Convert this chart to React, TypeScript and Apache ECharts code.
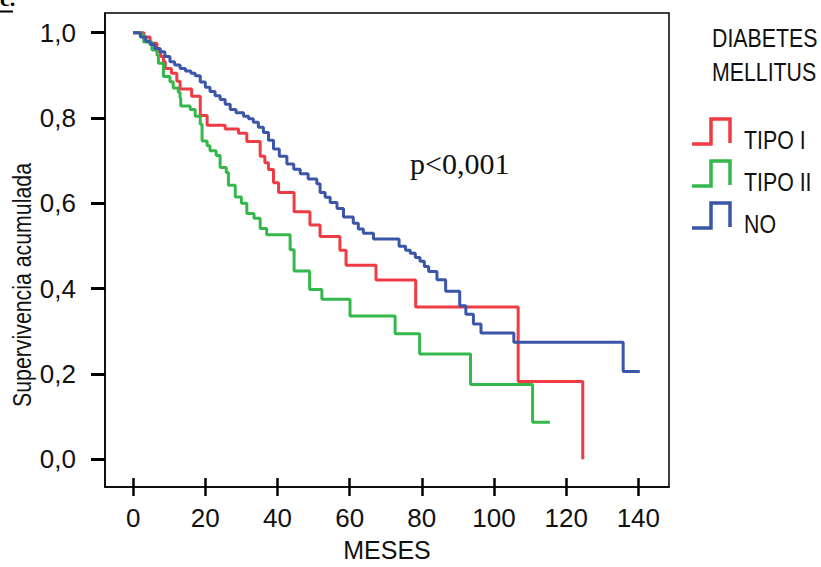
import React, { useEffect, useRef } from "react";
import * as echarts from "echarts";

// Kaplan-Meier survival estimates by diabetes group: [months, cumulative survival]
const tipoI: [number, number][] = [
  [0, 1.0], [3, 0.99], [4.7, 0.975], [6.6, 0.955], [7.6, 0.944], [8.4, 0.932],
  [8.9, 0.916], [10.6, 0.905], [12.1, 0.886], [13, 0.868], [16.2, 0.851],
  [18.6, 0.806], [20.5, 0.783], [25.5, 0.774], [29.2, 0.764], [31.5, 0.745],
  [35.2, 0.71], [36.5, 0.695], [37.5, 0.679], [38.9, 0.648], [40.3, 0.625],
  [44.6, 0.58], [49, 0.549], [51.8, 0.522], [57.3, 0.49], [59, 0.455],
  [67.3, 0.42], [78.3, 0.357], [106.7, 0.182], [124.6, 0],
];

const tipoII: [number, number][] = [
  [0, 1.0], [2.2, 0.995], [2.9, 0.978], [5.2, 0.959], [6.6, 0.947], [7, 0.928],
  [8.4, 0.897], [10.2, 0.885], [11.1, 0.87], [12.5, 0.86], [13, 0.847],
  [13.2, 0.828], [15.8, 0.82], [17.2, 0.804], [18.6, 0.785], [19.1, 0.746],
  [20.5, 0.735], [21.3, 0.723], [23, 0.712], [24.1, 0.684], [25.8, 0.672],
  [26.4, 0.642], [28.3, 0.615], [30, 0.6], [31.5, 0.576], [33.5, 0.565],
  [35.2, 0.541], [37, 0.526], [43.5, 0.491], [44.6, 0.441], [48.9, 0.398],
  [52.3, 0.375], [60.1, 0.336], [72.6, 0.294], [79.4, 0.247], [93.5, 0.175],
  [110.7, 0.087], [115.5, 0.087],
];

const noDiabetes: [number, number][] = [
  [0, 1.0], [2, 0.99], [3.5, 0.98], [4.7, 0.972], [6, 0.963], [7.5, 0.955],
  [8.8, 0.944], [10.2, 0.932], [11.5, 0.924], [13, 0.916], [14.5, 0.91],
  [16, 0.905], [17.2, 0.899], [18.6, 0.884], [20, 0.872], [21.3, 0.862],
  [22.7, 0.852], [24.1, 0.843], [25.5, 0.832], [26.9, 0.82], [28.5, 0.812],
  [30.6, 0.804], [32, 0.798], [33.3, 0.79], [34.7, 0.778], [36.1, 0.766],
  [37.5, 0.748], [38.9, 0.727], [40.5, 0.71], [42.6, 0.692], [44.5, 0.68],
  [46.3, 0.669], [48.5, 0.657], [50.9, 0.646], [51.8, 0.625], [53.2, 0.614],
  [54.6, 0.602], [56.5, 0.588], [58.3, 0.568], [61, 0.553], [62.4, 0.54],
  [63.8, 0.53], [66.6, 0.516], [73.7, 0.499], [75.5, 0.49], [76.8, 0.483],
  [78.2, 0.473], [79.5, 0.464], [80.7, 0.452], [81.9, 0.44], [84.2, 0.421],
  [86.6, 0.394], [90.5, 0.36], [92.2, 0.34], [94.3, 0.317], [96.4, 0.296],
  [105.5, 0.274], [135.8, 0.206], [140.4, 0.206],
];

const monthTicks = [0, 20, 40, 60, 80, 100, 120, 140];
const survivalTicks = [0, 0.2, 0.4, 0.6, 0.8, 1.0];
const legendTitle = ["DIABETES", "MELLITUS"];
const groupNames = ["TIPO I", "TIPO II", "NO"];
const groupColors = ["#ef3b43", "#35b84b", "#3b56a8"];

const SANS = "'Liberation Sans', Arial, sans-serif";
const SERIF = "'Liberation Serif', 'Times New Roman', serif";
// horizontal squeeze that gives the free-standing labels a narrow face
const NARROW_SCALE = 0.82;

export default function App() {
  const ref = useRef<HTMLDivElement>(null);

  useEffect(() => {
    if (!ref.current) return;
    const chart = echarts.init(ref.current, undefined, { renderer: "svg" });

    const seriesData = [tipoI, tipoII, noDiabetes];

    const narrowText = (
      text: string,
      x: number,
      y: number,
      size: number,
      extra: any = {}
    ) => ({
      type: "text",
      x,
      y,
      scaleX: NARROW_SCALE,
      z: 10,
      ...extra,
      style: {
        text,
        font: `${size}px ${SANS}`,
        fill: "#111",
        verticalAlign: "middle",
        align: "left",
        ...(extra.style || {}),
      },
    });

    const legendItems: any[] = [];
    groupNames.forEach((name, i) => {
      const top = 119 + i * 42;
      const bottom = top + 25;
      legendItems.push({
        type: "polyline",
        shape: {
          points: [
            [692, bottom],
            [711, bottom],
            [711, top],
            [730, top],
            [730, bottom - 1],
          ],
        },
        style: { stroke: groupColors[i], lineWidth: 3.5, fill: null },
        z: 10,
      });
      legendItems.push(narrowText(name, 744, top + 21, 26));
    });

    chart.setOption({
      animation: false,
      backgroundColor: "#fff",
      grid: {
        left: 105,
        right: 152,
        top: 13,
        bottom: 74,
        show: true,
        borderColor: "#000",
        borderWidth: 1.5,
        backgroundColor: "transparent",
      },
      xAxis: [
        {
          type: "value",
          min: -7.8,
          max: 148.5,
          position: "bottom",
          offset: 0,
          splitLine: { show: false },
          axisLine: {
            show: true,
            onZero: false,
            lineStyle: { color: "#000", width: 1.5 },
          },
          axisTick: {
            show: true,
            customValues: monthTicks,
            length: 9,
            lineStyle: { color: "#000", width: 2.5 },
          },
          axisLabel: {
            customValues: monthTicks,
            margin: 18,
            fontSize: 26,
            fontFamily: SANS,
            color: "#111",
          },
          name: "MESES",
          nameLocation: "middle",
          nameGap: 50,
          nameTextStyle: { fontSize: 25, fontFamily: SANS, color: "#111" },
        },
        {
          type: "value",
          min: -7.8,
          max: 148.5,
          position: "bottom",
          offset: 0,
          splitLine: { show: false },
          axisLine: { show: false, onZero: false },
          axisTick: {
            show: true,
            inside: true,
            customValues: monthTicks,
            length: 9,
            lineStyle: { color: "#000", width: 2.5 },
          },
          axisLabel: { show: false },
        },
      ],
      yAxis: {
        type: "value",
        min: -0.065,
        max: 1.046,
        splitLine: { show: false },
        axisLine: {
          show: true,
          onZero: false,
          lineStyle: { color: "#000", width: 1.5 },
        },
        axisTick: {
          show: true,
          customValues: survivalTicks,
          length: 14,
          lineStyle: { color: "#000", width: 3 },
        },
        axisLabel: {
          customValues: survivalTicks,
          margin: 29,
          fontSize: 26,
          fontFamily: SANS,
          color: "#111",
          formatter: (v: number) => v.toFixed(1).replace(".", ","),
        },
      },
      series: seriesData.map((data, i) => ({
        name: groupNames[i],
        type: "line",
        step: "end",
        data,
        showSymbol: false,
        symbol: "none",
        xAxisIndex: 0,
        lineStyle: { color: groupColors[i], width: 3 },
        itemStyle: { color: groupColors[i] },
        z: 5,
      })),
      graphic: [
        {
          type: "text",
          x: 0,
          y: 9,
          style: {
            text: "c.",
            font: `bold 22px ${SERIF}`,
            fill: "#000",
            verticalAlign: "bottom",
          },
        },
        {
          type: "line",
          shape: { x1: 0, y1: 11.5, x2: 13, y2: 11.5 },
          style: { stroke: "#000", lineWidth: 2 },
        },
        narrowText("Supervivencia acumulada", 22, 285, 26, {
          rotation: Math.PI / 2,
          style: { align: "center" },
        }),
        {
          type: "text",
          x: 410,
          y: 163,
          style: {
            text: "p<0,001",
            font: `30px ${SERIF}`,
            fill: "#111",
            verticalAlign: "middle",
          },
          z: 10,
        },
        narrowText(legendTitle[0], 712, 38, 26),
        narrowText(legendTitle[1], 712, 72, 26),
        ...legendItems,
      ],
    });

    return () => chart.dispose();
  }, []);

  return (
    <div
      ref={ref}
      style={{ position: "absolute", left: 0, top: 0, width: 821, height: 567 }}
    />
  );
}
